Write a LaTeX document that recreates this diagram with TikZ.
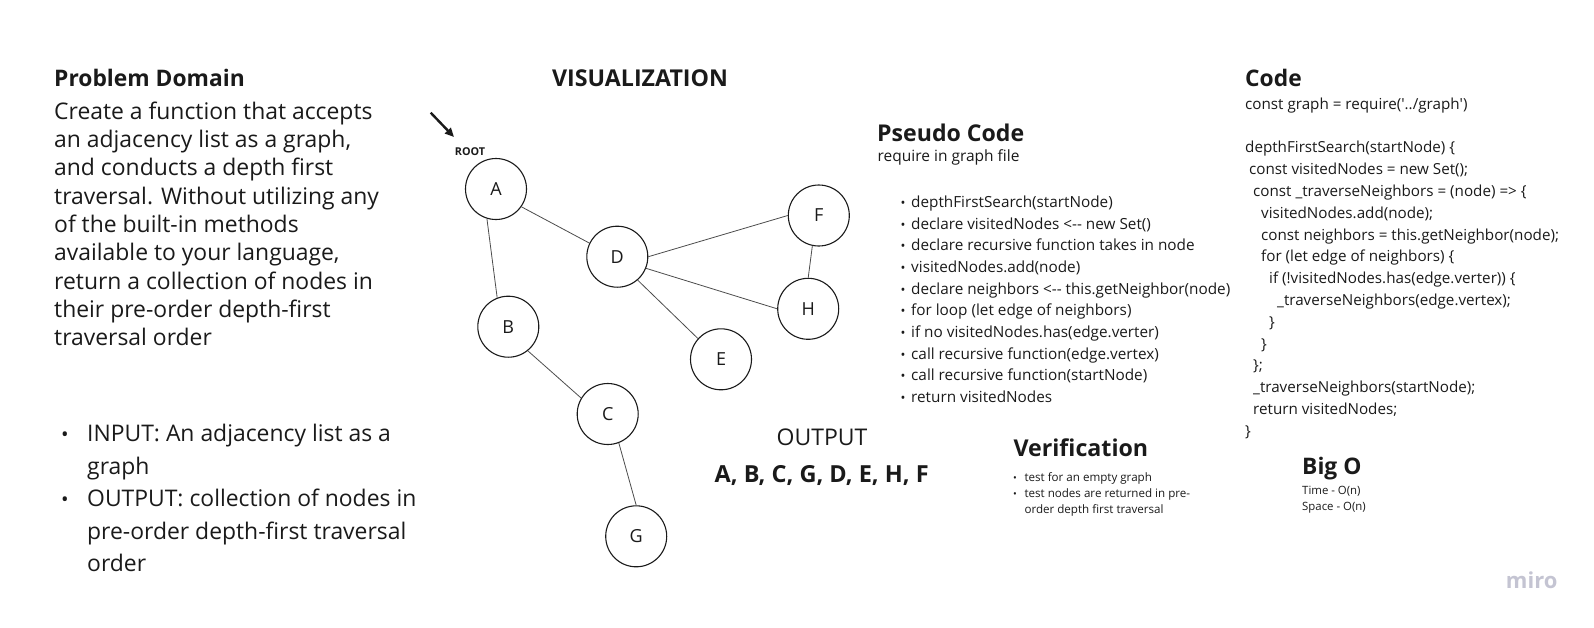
\documentclass[tikz,border=0pt]{standalone}
\usepackage{fontspec}
\setmainfont{Open Sans}
\usetikzlibrary{arrows.meta}
\definecolor{ink}{RGB}{26,26,26}
\definecolor{mirogray}{RGB}{196,196,210}
\newcommand{\fsz}[1]{\fontsize{#1}{#1}\selectfont}
\begin{document}
\begin{tikzpicture}[x=1pt,y=-1pt,
  txt/.style={inner sep=0pt, anchor=base west, text=ink},
  ctxt/.style={inner sep=0pt, anchor=base, text=ink},
  vnode/.style={circle, draw=ink, line width=1.1pt, minimum size=61pt, inner sep=0pt, text=ink, font=\fsz{18}},
  link/.style={draw=black!70, line width=0.8pt},
  heading/.style={txt, font=\fsz{22.8}\bfseries},
  bul/.style={inner sep=0pt, anchor=base, text=ink}
]
\useasboundingbox (0,0) rectangle (1594,627);

% ---------- Problem Domain ----------
\node[heading] (pdh) at (54,86) {Problem Domain};
\foreach \t [count=\i] in {Create a function that accepts,
  {an adjacency list as a graph,},
  and conducts a depth first,
  traversal. Without utilizing any,
  of the built-in methods,
  {available to your language,},
  return a collection of nodes in,
  their pre-order depth-first,
  traversal order}
  \node[txt, font=\fsz{22.9}] (pd\i) at (54,{119.3+(\i-1)*28.3}) {\t};

\node[bul, font=\fsz{20}] (pb1) at (65,441.7) {•};
\node[txt, font=\fsz{22.9}] (pi1) at (87,441.7) {INPUT: An adjacency list as a};
\node[txt, font=\fsz{22.9}] (pi2) at (87,474.2) {graph};
\node[bul, font=\fsz{20}] (pb2) at (65,506.7) {•};
\node[txt, font=\fsz{22.9}] (pi3) at (87,506.7) {OUTPUT: collection of nodes in};
\node[txt, font=\fsz{22.9}] (pi4) at (87,539.2) {pre-order depth-first traversal};
\node[txt, font=\fsz{22.9}] (pi5) at (87,571.7) {order};

% ---------- Visualization ----------
\node[ctxt, font=\fsz{23.2}\bfseries] (vis) at (640,86.7) {VISUALIZATION};
\node[ctxt, font=\fsz{10.8}\bfseries] (root) at (470,155) {ROOT};
\coordinate (rootTail) at (430.7,112.7);
\coordinate (rootHead) at (454,137);
\draw[ink, line width=2.4pt, -{Triangle[length=9pt,width=8pt]}] (rootTail) -- (rootHead);

\node[vnode] (A) at (496,189) {A};
\node[vnode] (B) at (508.3,326.7) {B};
\node[vnode] (C) at (607.7,414) {C};
\node[vnode] (G) at (636.2,536.3) {G};
\node[vnode] (D) at (617.3,256.7) {D};
\node[vnode] (E) at (721,359.3) {E};
\node[vnode] (F) at (818.8,215.5) {F};
\node[vnode] (H) at (808.2,308.8) {H};

\draw[link] (A.325) -- (D.154);
\draw[link] (A.253) -- (B.111);
\draw[link] (B.309) -- (C.149);
\draw[link] (C.291) -- (G.90);
\draw[link] (D.0) -- (F.180);
\draw[link] (D.338) -- (H.180);
\draw[link] (D.311) -- (E.138);
\draw[link] (F.258) -- (H.90);

% ---------- Output ----------
\node[ctxt, font=\fsz{23}] (outh) at (822,445) {OUTPUT};
\node[ctxt, font=\fsz{23.5}\bfseries] (outv) at (821.7,482.7) {A, B, C, G, D, E, H, F};

% ---------- Pseudo Code ----------
\node[heading, font=\fsz{23.1}\bfseries] (psh) at (877,141) {Pseudo Code};
\node[txt, font=\fsz{15.5}] (psr) at (877.5,161.7) {require in graph file};
\foreach \t [count=\i] in {depthFirstSearch(startNode),
  declare visitedNodes <-{}- new Set(),
  declare recursive function takes in node,
  visitedNodes.add(node),
  declare neighbors <-{}- this.getNeighbor(node),
  for loop (let edge of neighbors),
  if no visitedNodes.has(edge.verter),
  call recursive function(edge.vertex),
  call recursive function(startNode),
  return visitedNodes} {
  \node[bul, font=\fsz{13}] (psb\i) at (903,{207.3+(\i-1)*21.7}) {•};
  \node[txt, font=\fsz{15.3}] (ps\i) at (911,{207.3+(\i-1)*21.7}) {\t};
}

% ---------- Verification ----------
\node[txt, font=\fsz{23.2}\bfseries] (verh) at (1013.3,456.7) {Verification};
\node[bul, font=\fsz{10}] (vb1) at (1015,481.7) {•};
\node[txt, font=\fsz{11.6}] (v1) at (1024.3,481.7) {test for an empty graph};
\node[bul, font=\fsz{10}] (vb2) at (1015,497.7) {•};
\node[txt, font=\fsz{11.6}] (v2) at (1024.3,497.7) {test nodes are returned in pre-};
\node[txt, font=\fsz{11.6}] (v3) at (1024.3,513.5) {order depth first traversal};

% ---------- Code ----------
\node[heading] (codeh) at (1245,86) {Code};
\begin{scope}[every node/.style={txt, font=\fsz{15.2}}]
\node (c1)  at (1245,109.3) {const graph = require(\textquotesingle../graph\textquotesingle)};
\node (c3)  at (1245,152.9) {depthFirstSearch(startNode) \{};
\node (c4)  at (1249,174.7) {const visitedNodes = new Set();};
\node (c5)  at (1253,196.5) {const \_traverseNeighbors = (node) => \{};
\node (c6)  at (1261,218.3) {visitedNodes.add(node);};
\node (c7)  at (1261,240.1) {const neighbors = this.getNeighbor(node);};
\node (c8)  at (1261,261.9) {for (let edge of neighbors) \{};
\node (c9)  at (1269,283.7) {if (!visitedNodes.has(edge.verter)) \{};
\node (c10) at (1277,305.5) {\_traverseNeighbors(edge.vertex);};
\node (c11) at (1269,327.3) {\}};
\node (c12) at (1261,349.1) {\}};
\node (c13) at (1253,370.9) {\};};
\node (c14) at (1253,392.7) {\_traverseNeighbors(startNode);};
\node (c15) at (1253,414.5) {return visitedNodes;};
\node (c16) at (1245,436.3) {\}};
\end{scope}

% ---------- Big O ----------
\node[heading] (bigh) at (1302,474.3) {Big O};
\node[txt, font=\fsz{11.4}] (bt) at (1302,494) {Time - O(n)};
\node[txt, font=\fsz{11.4}] (bs) at (1302,510) {Space - O(n)};

% ---------- logo ----------
\node[ctxt, text=mirogray, font=\fsz{22}\bfseries] (miro) at (1531.7,588.3) {miro};
\end{tikzpicture}
\end{document}
